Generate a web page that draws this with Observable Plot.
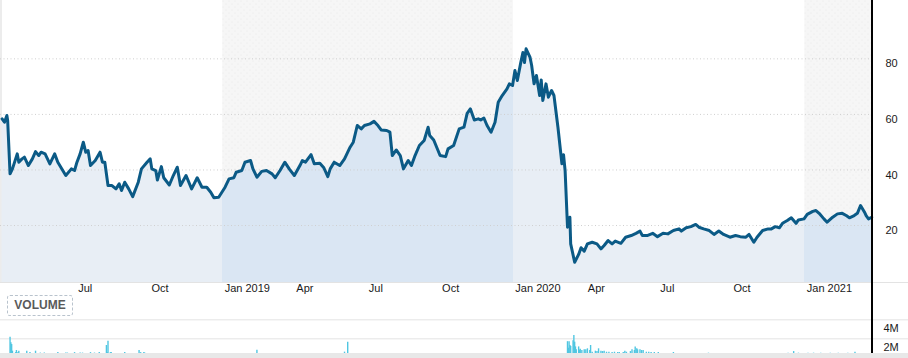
<!DOCTYPE html>
<html>
<head>
<meta charset="utf-8">
<script src="https://cdn.jsdelivr.net/npm/d3@7"></script>
<script src="https://cdn.jsdelivr.net/npm/@observablehq/plot@0.6"></script>
<style>
  html, body { margin: 0; padding: 0; background: #fff; }
  #chart { position: relative; width: 908px; height: 358px; overflow: hidden; font-family: Arial, "Liberation Sans", sans-serif; }
  #chart svg { position: absolute; left: 0; overflow: visible; }
  #price { top: 0; }
  #volume { top: 310px; }
  .vbtn { position: absolute; left: 7px; top: 295px; width: 64px; height: 19px; border: 1px dashed #b9c3cd; border-radius: 3px;
          font: bold 12px Arial, "Liberation Sans", sans-serif; color: #5a5a5a; text-align: center; line-height: 19px; box-sizing: content-box; }
  .axisline { position: absolute; left: 871px; top: 0; width: 1.5px; height: 353px; background: #000; }
  .baseline { position: absolute; left: 0; top: 282px; width: 908px; height: 1px; background: #e3e3e3; }
  .leftline { position: absolute; left: 0; top: 0; width: 2px; height: 282px; background: #ececec; }
  .bottomstrip { position: absolute; left: 0; top: 353px; width: 908px; height: 5px; background: #e8e8e8; }
</style>
</head>
<body>
<div id="chart"></div>
<script>
// ---- data ----
const priceDates = [
"2018-03-30","2018-04-02","2018-04-05","2018-04-06","2018-04-09","2018-04-12","2018-04-18","2018-04-20","2018-04-24","2018-04-27",
"2018-05-02","2018-05-07","2018-05-11","2018-05-15","2018-05-18","2018-05-23","2018-05-29","2018-06-04","2018-06-08","2018-06-18",
"2018-06-25","2018-06-29","2018-07-02","2018-07-06","2018-07-10","2018-07-13","2018-07-16","2018-07-19","2018-07-25","2018-07-31",
"2018-08-03","2018-08-06","2018-08-10","2018-08-15","2018-08-20","2018-08-24","2018-08-27","2018-08-31","2018-09-05","2018-09-10",
"2018-09-17","2018-09-21","2018-09-28","2018-10-02","2018-10-04","2018-10-09","2018-10-11","2018-10-16","2018-10-19","2018-10-26",
"2018-10-31","2018-11-05","2018-11-09","2018-11-16","2018-11-23","2018-11-30","2018-12-06","2018-12-12","2018-12-17","2018-12-21",
"2018-12-27","2019-01-04","2019-01-09","2019-01-15","2019-01-18","2019-01-25","2019-01-29","2019-02-05","2019-02-08","2019-02-13",
"2019-02-19","2019-02-25","2019-03-04","2019-03-08","2019-03-14","2019-03-20","2019-03-26","2019-04-01","2019-04-08","2019-04-11",
"2019-04-15","2019-04-22","2019-04-26","2019-05-03","2019-05-08","2019-05-13","2019-05-16","2019-05-21","2019-05-28","2019-06-03",
"2019-06-10","2019-06-14","2019-06-19","2019-06-24","2019-06-28","2019-07-05","2019-07-10","2019-07-15","2019-07-19","2019-07-26",
"2019-07-30","2019-08-02","2019-08-07","2019-08-12","2019-08-16","2019-08-22","2019-08-26","2019-08-30","2019-09-05","2019-09-11",
"2019-09-16","2019-09-18","2019-09-23","2019-10-01","2019-10-08","2019-10-11","2019-10-18","2019-10-25","2019-10-31","2019-11-04",
"2019-11-08","2019-11-13","2019-11-18","2019-11-21","2019-11-25","2019-11-29","2019-12-04","2019-12-09","2019-12-13","2019-12-18",
"2019-12-24","2019-12-27","2019-12-31","2020-01-03","2020-01-06","2020-01-10","2020-01-13","2020-01-15","2020-01-17","2020-01-22",
"2020-01-24","2020-01-27","2020-01-30","2020-02-03","2020-02-05","2020-02-07","2020-02-11","2020-02-14","2020-02-18","2020-02-21",
"2020-02-26","2020-03-02","2020-03-04","2020-03-06","2020-03-09","2020-03-12","2020-03-13","2020-03-18","2020-03-23","2020-03-26",
"2020-03-30","2020-04-03","2020-04-09","2020-04-15","2020-04-20","2020-04-24","2020-04-29","2020-05-04","2020-05-08","2020-05-15",
"2020-05-21","2020-05-28","2020-06-03","2020-06-08","2020-06-11","2020-06-17","2020-06-24","2020-06-30","2020-07-07","2020-07-13",
"2020-07-20","2020-07-27","2020-07-30","2020-08-05","2020-08-11","2020-08-17","2020-08-21","2020-08-27","2020-09-03","2020-09-09",
"2020-09-15","2020-09-21","2020-09-29","2020-10-06","2020-10-12","2020-10-19","2020-10-23","2020-10-29","2020-11-02","2020-11-09",
"2020-11-16","2020-11-20","2020-11-25","2020-11-30","2020-12-04","2020-12-10","2020-12-15","2020-12-21","2020-12-24","2020-12-31",
"2021-01-04","2021-01-11","2021-01-15","2021-01-19","2021-01-25","2021-01-29","2021-02-05","2021-02-11","2021-02-17","2021-02-22",
"2021-02-26","2021-03-04","2021-03-08","2021-03-12","2021-03-17","2021-03-19","2021-03-22","2021-03-26"
];
const priceValues = [
58.4,57.2,59.6,57.8,38.6,40.4,45.8,42.8,44.0,44.6,
41.6,44.0,46.6,45.2,46.4,45.8,42.2,45.8,42.8,38.0,
40.4,39.8,42.8,45.8,50.0,46.4,47.0,41.6,43.4,46.4,
42.8,42.8,34.4,34.4,33.2,35.0,32.6,35.6,33.2,30.4,
35.6,40.4,42.8,44.0,40.4,39.8,36.4,41.2,37.2,34.6,
38.0,41.0,34.4,38.0,33.2,37.2,33.8,33.8,32.0,30.0,
30.2,33.8,36.8,37.2,39.2,39.8,42.8,43.4,40.4,37.4,
39.5,39.8,38.6,37.2,39.8,42.8,40.2,38.0,41.6,43.4,
42.8,45.5,42.2,42.4,40.8,37.6,40.4,42.8,41.6,44.0,
48.2,50.0,56.0,54.8,56.0,56.6,57.5,56.0,54.4,54.2,
53.6,45.2,47.2,45.2,40.4,43.4,41.6,44.8,48.8,50.6,
55.4,52.4,50.8,45.2,44.8,47.6,48.8,54.8,55.4,60.4,
62.0,58.0,58.4,58.0,58.7,56.0,53.6,57.2,64.4,66.8,
69.2,71.0,70.4,75.8,72.2,78.2,82.3,78.7,83.6,80.5,
77.6,71.0,74.0,66.8,72.4,65.0,71.0,66.2,68.6,66.8,
55.4,42.2,45.5,39.8,19.4,23.0,13.4,6.8,9.6,12.0,
10.8,13.4,14.0,13.4,11.6,12.8,14.6,13.4,14.4,13.6,
15.8,16.4,17.2,18.0,16.4,16.4,17.2,16.0,17.2,17.0,
18.2,18.8,18.0,19.2,19.6,20.4,19.4,18.8,18.2,16.8,
18.0,16.8,15.8,16.4,16.0,15.8,16.8,14.0,15.8,18.2,
18.8,18.8,19.6,19.2,20.8,21.8,22.8,20.8,22.0,22.4,
24.0,25.1,25.4,24.4,22.4,21.2,23.0,24.2,24.4,23.6,
22.8,23.6,24.4,27.2,24.8,23.6,22.4,23.0
];
const volumeDates = [
"2018-04-09","2018-04-10","2018-04-11","2018-04-12","2018-04-16","2018-04-17","2018-04-19","2018-04-20","2018-04-30","2018-05-04",
"2018-05-11","2018-05-17","2018-05-22","2018-06-08","2018-06-18","2018-06-20","2018-06-29","2018-07-06","2018-07-09","2018-07-19",
"2018-07-24","2018-07-30","2018-08-08","2018-08-09","2018-08-10","2018-08-13","2018-08-14","2018-08-20","2018-08-22","2018-08-24",
"2018-08-27","2018-08-31","2018-09-13","2018-09-18","2018-09-20","2018-09-24","2018-09-25","2018-12-10","2019-01-30","2019-02-13",
"2019-03-15","2019-03-29","2019-06-03","2019-06-07",
"2020-02-28","2020-03-03","2020-03-09","2020-03-10","2020-03-11","2020-03-12","2020-03-13","2020-03-16","2020-03-17","2020-03-18",
"2020-03-19","2020-03-20","2020-03-23","2020-03-24","2020-03-25","2020-03-27","2020-03-30","2020-04-01","2020-04-03","2020-04-06",
"2020-04-07","2020-04-09","2020-04-13","2020-04-15","2020-04-17","2020-04-20","2020-04-22","2020-04-24","2020-04-27","2020-04-30",
"2020-05-04","2020-05-07","2020-05-11","2020-05-13","2020-05-18","2020-05-20","2020-05-22","2020-05-27","2020-05-29","2020-06-01",
"2020-06-02","2020-06-04","2020-06-05","2020-06-08","2020-06-10","2020-06-12","2020-06-16","2020-06-19","2020-06-22","2020-06-26",
"2020-07-01","2020-07-20","2020-09-02","2020-12-11","2020-12-18","2020-12-24","2021-01-05","2021-01-12","2021-01-21","2021-02-02",
"2021-02-12","2021-02-24","2021-03-05"
];
const volumeValues = [
2.17,1.6,1.4,0.7,0.55,0.77,0.55,0.7,0.7,0.55,
0.7,0.5,0.5,0.55,0.5,0.5,0.55,0.5,0.5,0.55,
0.5,0.55,1.3,0.55,1.75,0.55,0.55,0.45,0.45,0.45,
0.45,0.55,0.45,0.77,0.55,0.55,0.5,0.45,0.45,0.8,
0.45,0.45,0.6,1.65,
0.45,0.45,1.7,1.0,1.7,1.3,1.2,1.8,2.35,1.65,
1.15,0.85,1.15,0.8,0.9,0.77,0.84,0.84,0.95,0.77,
1.3,0.59,0.7,0.66,0.95,0.7,0.66,0.7,0.59,0.59,
0.56,0.59,0.56,0.56,0.56,0.7,0.59,0.66,0.84,0.77,
1.15,0.95,0.84,0.84,0.77,0.77,0.59,0.59,0.56,0.56,
0.56,0.56,0.49,0.49,0.66,0.49,0.49,0.49,0.49,0.49,
0.49,0.49,0.59
];
const yearBandStarts = ["2019-01-01", "2021-01-01"];
const yearBandEnds = ["2020-01-01", "2021-03-27"];
const xTicks = ["2018-07-01","2018-10-01","2019-01-01","2019-04-01","2019-07-01","2019-10-01","2020-01-01","2020-04-01","2020-07-01","2020-10-01","2021-01-01"];
const xTickLabels = ["Jul","Oct","Jan 2019","Apr","Jul","Oct","Jan 2020","Apr","Jul","Oct","Jan 2021"];
const yTicks = [20, 40, 60, 80];
const volTicks = [2, 4];
const volTickLabels = ["2M", "4M"];

// ---- config ----
const xDomain = [new Date("2018-03-28"), new Date("2021-03-27")];
const yDomain = [-0.5, 101];
const lightFill = "#e8eef5", bandFill = "#dae6f3", lineColor = "#0b5a86", volColor = "#50c6e1";

const price = priceDates.map((d, i) => ({date: new Date(d), value: priceValues[i]}));
const volume = volumeDates.map((d, i) => ({date: new Date(d), vol: volumeValues[i]}));
const bands = yearBandStarts.map((s, i) => ({start: new Date(s), end: new Date(yearBandEnds[i])}));
const tickDates = xTicks.map(d => new Date(d));
const tickLabelOf = new Map(xTicks.map((d, i) => [+new Date(d), xTickLabels[i]]));

const chart = document.getElementById("chart");
const baseStyle = {fontFamily: 'Arial, "Liberation Sans", sans-serif', fontSize: "11px", color: "#222", background: "transparent", overflow: "visible"};

const pricePlot = Plot.plot({
  width: 908, height: 300,
  marginLeft: 0, marginRight: 36, marginTop: 0, marginBottom: 18,
  style: baseStyle,
  x: {type: "utc", domain: xDomain, label: null},
  y: {domain: yDomain, label: null},
  marks: [
    Plot.rect(bands, {x1: "start", x2: "end", fill: "url(#dots)"}),
    Plot.areaY(price, {x: "date", y1: yDomain[0], y2: "value", fill: "url(#bandFill)"}),
    Plot.ruleY(yTicks, {stroke: "#cfcfcf", strokeDasharray: "1,2.5", strokeWidth: 1}),
    Plot.lineY(price, {x: "date", y: "value", stroke: lineColor, strokeWidth: 3, strokeLinejoin: "round", strokeLinecap: "round"}),
    Plot.axisX(tickDates, {anchor: "bottom", label: null, tickSize: 0, tickPadding: 2, textAnchor: "start", dx: 2, tickFormat: d => tickLabelOf.get(+d), fill: "#1a1a1a"}),
    Plot.axisY(yTicks, {anchor: "right", label: null, tickSize: 0, tickPadding: 13, dy: 5, fill: "#1a1a1a"})
  ]
});
pricePlot.id = "price";

// defs: dotted band pattern and horizontal band gradient for the area, positioned by the x scale
const xs = pricePlot.scale("x");
const W = 908;
const b0 = xs.apply(bands[0].start) / W, b1 = xs.apply(bands[0].end) / W, b2 = xs.apply(bands[1].start) / W;
const svgSel = d3.select(pricePlot);
const defs = svgSel.insert("defs", ":first-child");
const pat = defs.append("pattern").attr("id", "dots").attr("patternUnits", "userSpaceOnUse").attr("width", 6).attr("height", 6);
pat.append("rect").attr("width", 6).attr("height", 6).attr("fill", "#f6f6f6");
pat.append("circle").attr("cx", 1).attr("cy", 1).attr("r", 0.55).attr("fill", "#e6e6e6");
pat.append("circle").attr("cx", 4).attr("cy", 4).attr("r", 0.55).attr("fill", "#e6e6e6");
const grad = defs.append("linearGradient").attr("id", "bandFill").attr("gradientUnits", "userSpaceOnUse")
  .attr("x1", 0).attr("x2", W).attr("y1", 0).attr("y2", 0);
[[0, lightFill], [b0, lightFill], [b0, bandFill], [b1, bandFill], [b1, lightFill], [b2, lightFill], [b2, bandFill], [1, bandFill]]
  .forEach(([o, c]) => grad.append("stop").attr("offset", o).attr("stop-color", c));

const volPlot = Plot.plot({
  width: 908, height: 48,
  marginLeft: 0, marginRight: 0, marginTop: 0, marginBottom: 0,
  style: baseStyle,
  x: {type: "utc", domain: xDomain, range: [0, 872], axis: null},
  y: {domain: [-0.07, 4.98], axis: null},
  marks: [
    Plot.ruleY(volTicks, {stroke: "#e3e3e3", strokeWidth: 1}),
    Plot.ruleX(volume, {x: "date", y1: 0, y2: "vol", stroke: volColor, strokeWidth: 1.4}),
    Plot.text(volTicks, {y: d => d, text: (d, i) => volTickLabels[i], frameAnchor: "right", dx: -25, dy: 8.5, textAnchor: "start", fill: "#1a1a1a"})
  ]
});
volPlot.id = "volume";

const left = document.createElement("div"); left.className = "leftline";
const base = document.createElement("div"); base.className = "baseline";
const btn = document.createElement("div"); btn.className = "vbtn"; btn.textContent = "VOLUME";
const strip = document.createElement("div"); strip.className = "bottomstrip";
const axl = document.createElement("div"); axl.className = "axisline";
chart.append(left, pricePlot, base, btn, volPlot, strip, axl);
</script>
</body>
</html>
